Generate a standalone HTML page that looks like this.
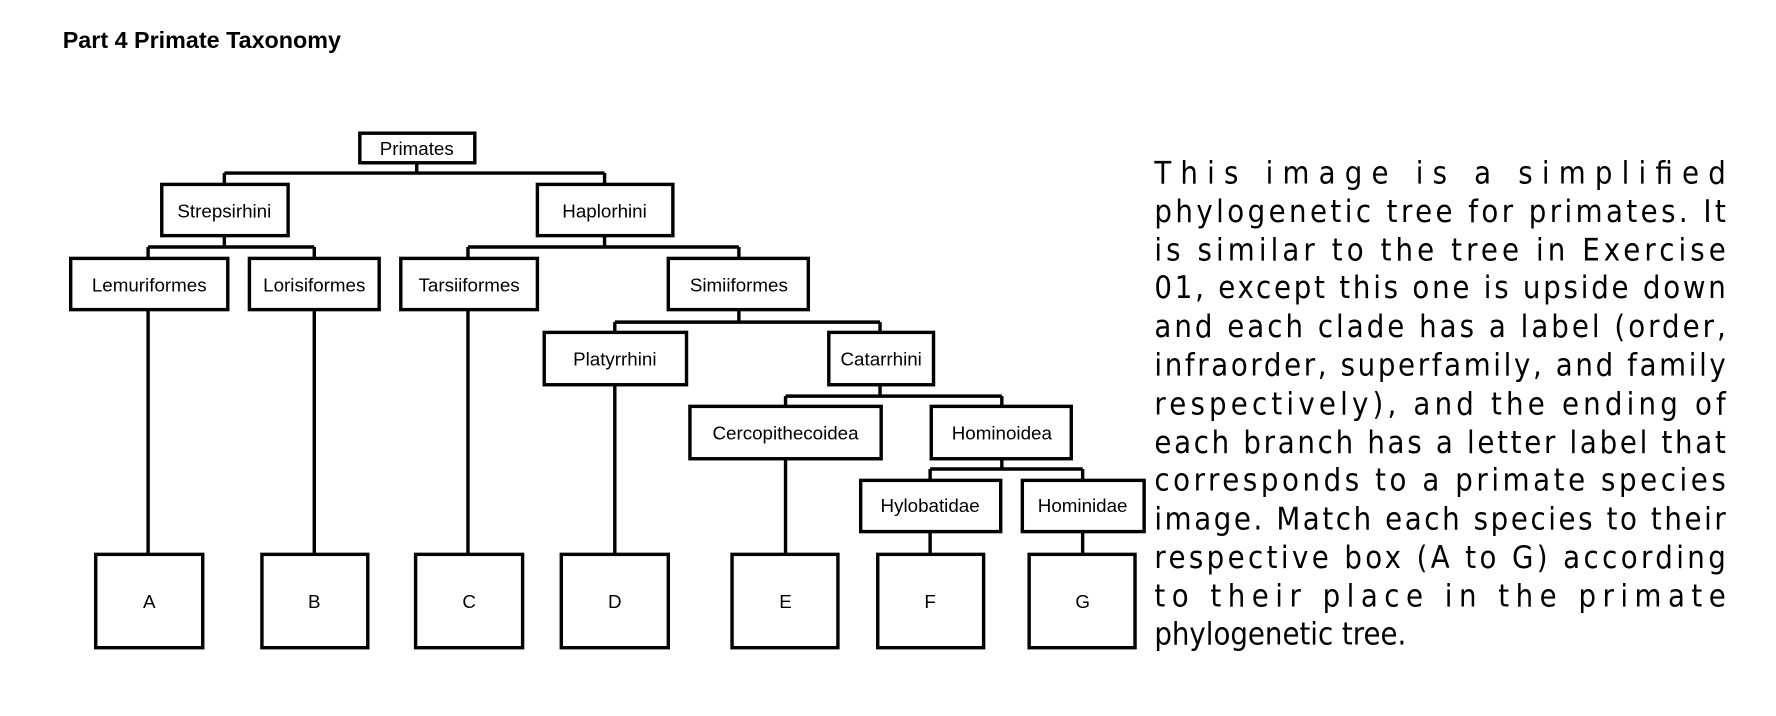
<!DOCTYPE html>
<html><head><meta charset="utf-8"><style>
html,body{margin:0;padding:0;background:#fff;}
svg{display:block;}
.n{fill:#fff;stroke:#000;stroke-width:3;}
.l{stroke:#000;stroke-width:3;fill:none;}
.t{font-family:"Liberation Sans",sans-serif;font-size:16.5px;text-anchor:middle;fill:#000;}
.p{font-family:"DejaVu Sans Condensed","DejaVu Sans",sans-serif;font-size:27px;fill:#000;}
</style></head><body>
<svg width="1776" height="716" viewBox="0 0 1560 629" xmlns="http://www.w3.org/2000/svg">
<text x="55" y="42" font-family="Liberation Sans,sans-serif" font-weight="bold" font-size="20.5">Part 4 Primate Taxonomy</text>
<g class="l">
<path d="M366 143V152M197 152H531M197 152V162M531 152V162"/>
<path d="M197 207V217M130 217H276M130 217V227M276 217V227"/>
<path d="M531 207V217M411 217H649M411 217V227M649 217V227"/>
<path d="M649 272V283M540 283H773M540 283V292M773 283V292"/>
<path d="M773 338V348M690 348H880M690 348V357M880 348V357"/>
<path d="M880 403V412M817 412H951M817 412V422M951 412V422"/>
<path d="M130 272V487M276 272V487M411 272V487M540 338V487M690 403V487M817 467V487M951 467V487"/>
</g>
<rect class="n" x="316" y="117" width="101" height="26"/>
<rect class="n" x="142" y="162" width="111" height="45"/>
<rect class="n" x="472" y="162" width="119" height="45"/>
<rect class="n" x="62" y="227" width="138" height="45"/>
<rect class="n" x="219" y="227" width="114" height="45"/>
<rect class="n" x="352" y="227" width="120" height="45"/>
<rect class="n" x="587" y="227" width="123" height="45"/>
<rect class="n" x="478" y="292" width="125" height="46"/>
<rect class="n" x="728" y="292" width="92" height="46"/>
<rect class="n" x="606" y="357" width="168" height="46"/>
<rect class="n" x="818" y="357" width="123" height="46"/>
<rect class="n" x="756" y="422" width="123" height="45"/>
<rect class="n" x="898" y="422" width="107" height="45"/>
<rect class="n" x="84" y="487" width="94" height="82"/>
<rect class="n" x="230" y="487" width="93" height="82"/>
<rect class="n" x="365" y="487" width="94" height="82"/>
<rect class="n" x="493" y="487" width="94" height="82"/>
<rect class="n" x="643" y="487" width="93" height="82"/>
<rect class="n" x="771" y="487" width="93" height="82"/>
<rect class="n" x="904" y="487" width="93" height="82"/>
<text class="t" x="366" y="136">Primates</text>
<text class="t" x="197" y="191">Strepsirhini</text>
<text class="t" x="531" y="191">Haplorhini</text>
<text class="t" x="131" y="256">Lemuriformes</text>
<text class="t" x="276" y="256">Lorisiformes</text>
<text class="t" x="412" y="256">Tarsiiformes</text>
<text class="t" x="649" y="256">Simiiformes</text>
<text class="t" x="540" y="321">Platyrrhini</text>
<text class="t" x="774" y="321">Catarrhini</text>
<text class="t" x="690" y="386">Cercopithecoidea</text>
<text class="t" x="880" y="386">Hominoidea</text>
<text class="t" x="817" y="450">Hylobatidae</text>
<text class="t" x="951" y="450">Hominidae</text>
<text class="t" x="131" y="534">A</text>
<text class="t" x="276" y="534">B</text>
<text class="t" x="412" y="534">C</text>
<text class="t" x="540" y="534">D</text>
<text class="t" x="690" y="534">E</text>
<text class="t" x="817" y="534">F</text>
<text class="t" x="951" y="534">G</text>
<g class="p">
<text x="1014" y="161" textLength="502" lengthAdjust="spacing">This image is a simplified</text>
<text x="1014" y="195" textLength="502" lengthAdjust="spacing">phylogenetic tree for primates. It</text>
<text x="1014" y="229" textLength="502" lengthAdjust="spacing">is similar to the tree in Exercise</text>
<text x="1014" y="262" textLength="502" lengthAdjust="spacing">01, except this one is upside down</text>
<text x="1014" y="296" textLength="502" lengthAdjust="spacing">and each clade has a label (order,</text>
<text x="1014" y="330" textLength="502" lengthAdjust="spacing">infraorder, superfamily, and family</text>
<text x="1014" y="364" textLength="502" lengthAdjust="spacing">respectively), and the ending of</text>
<text x="1014" y="398" textLength="502" lengthAdjust="spacing">each branch has a letter label that</text>
<text x="1014" y="431" textLength="502" lengthAdjust="spacing">corresponds to a primate species</text>
<text x="1014" y="465" textLength="502" lengthAdjust="spacing">image. Match each species to their</text>
<text x="1014" y="499" textLength="502" lengthAdjust="spacing">respective box (A to G) according</text>
<text x="1014" y="533" textLength="502" lengthAdjust="spacing">to their place in the primate</text>
<text x="1014" y="566">phylogenetic tree.</text>
</g>
</svg>
</body></html>
